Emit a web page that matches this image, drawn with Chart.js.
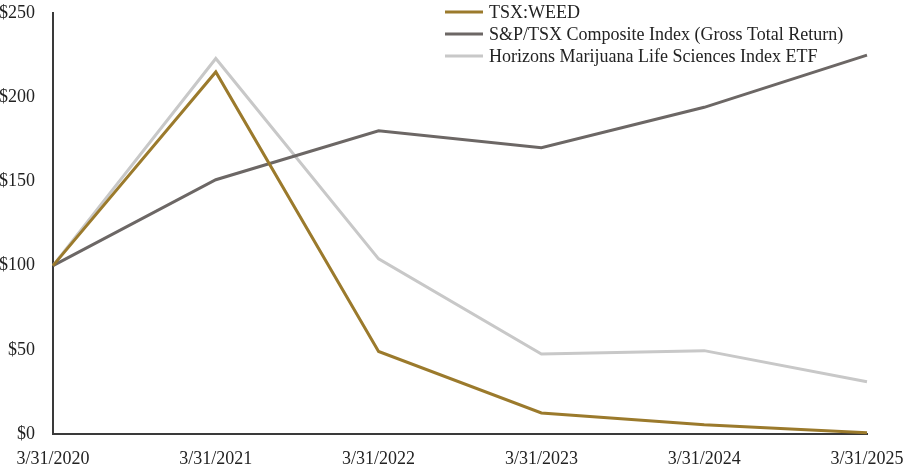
<!DOCTYPE html>
<html>
<head>
<meta charset="utf-8">
<script src="https://cdn.jsdelivr.net/npm/chart.js@4/dist/chart.umd.min.js"></script>
<style>
  html, body { margin: 0; padding: 0; background: #fff; }
  #wrap { width: 904px; height: 471px; position: relative; }
</style>
</head>
<body>
<div id="wrap"><canvas id="perf-chart"></canvas></div>
<script>
// data //
const dates = ['3/31/2020', '3/31/2021', '3/31/2022', '3/31/2023', '3/31/2024', '3/31/2025'];
const weedValues = [100, 215, 49, 12.5, 5.5, 0.8];
const tsxValues = [100, 151, 180, 170, 194, 225];
const horizonsValues = [100, 223, 104, 47.5, 49.5, 31];
const seriesNames = ['TSX:WEED', 'S&P/TSX Composite Index (Gross Total Return)', 'Horizons Marijuana Life Sciences Index ETF'];
const yTicks = [0, 50, 100, 150, 200, 250];

const colors = ['#9b7a2c', '#6c6765', '#c8c8c8'];
const serif = "'Liberation Serif', 'Times New Roman', serif";

// stacked legend drawn at the top right //
const stackedLegend = {
  id: 'stackedLegend',
  afterDraw(chart) {
    const ctx = chart.ctx;
    const x0 = 445;
    ctx.save();
    ctx.font = '18px ' + serif;
    ctx.textBaseline = 'middle';
    chart.data.datasets.forEach((ds, i) => {
      const y = 12 + i * 22;
      ctx.strokeStyle = ds.borderColor;
      ctx.lineWidth = 3;
      ctx.beginPath();
      ctx.moveTo(x0, y);
      ctx.lineTo(x0 + 38, y);
      ctx.stroke();
      ctx.fillStyle = '#222';
      ctx.fillText(ds.label, x0 + 44, y + 1);
    });
    ctx.restore();
  }
};

new Chart('perf-chart', {
  type: 'line',
  data: {
    labels: dates,
    datasets: [
      { label: seriesNames[0], data: weedValues, borderColor: colors[0] },
      { label: seriesNames[1], data: tsxValues, borderColor: colors[1] },
      { label: seriesNames[2], data: horizonsValues, borderColor: colors[2] }
    ]
  },
  options: {
    responsive: true,
    maintainAspectRatio: false,
    animation: false,
    layout: { padding: { top: 13, right: 37, left: 0, bottom: 0 } },
    elements: {
      line: { borderWidth: 3, tension: 0, fill: false },
      point: { radius: 0 }
    },
    datasets: { line: { clip: false } },
    plugins: {
      legend: { display: false },
      tooltip: { enabled: false }
    },
    scales: {
      x: {
        offset: false,
        grid: { display: false, drawTicks: false },
        border: { display: true, color: '#3a3a3a', width: 2 },
        ticks: { color: '#222', font: { family: serif, size: 18 }, padding: 14, maxRotation: 0, autoSkip: false },
        afterFit(scale) {
          scale.height = 37;
          scale.paddingLeft = 0;
          scale.paddingRight = 0;
        }
      },
      y: {
        min: 0,
        max: 250,
        afterBuildTicks(scale) { scale.ticks = yTicks.map(v => ({ value: v })); },
        grid: { display: false, drawTicks: false },
        border: { display: true, color: '#3a3a3a', width: 2 },
        ticks: {
          color: '#222',
          font: { family: serif, size: 18 },
          padding: 18,
          callback: v => '$' + v
        },
        afterFit(scale) {
          scale.width = 53;
          scale.paddingTop = 0;
          scale.paddingBottom = 0;
        }
      }
    }
  },
  plugins: [stackedLegend]
});
</script>
</body>
</html>
